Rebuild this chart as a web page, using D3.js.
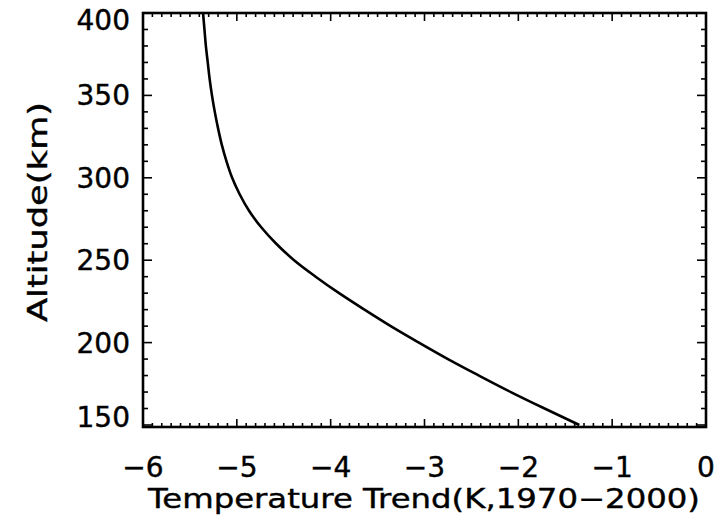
<!DOCTYPE html>
<html>
<head>
<meta charset="utf-8">
<script src="https://cdn.jsdelivr.net/npm/d3@7"></script>
<style>
  html, body { margin: 0; padding: 0; background: #fff; }
  svg { display: block; }
  text { font-family: "DejaVu Sans", sans-serif; fill: #000; stroke: #000; stroke-width: 0.4px; }
</style>
</head>
<body>
<div id="chart"></div>
<script>
// Data
const altitude = [150, 160, 170, 180, 190, 200, 210, 220, 230, 240, 250, 260, 270, 280, 290, 300, 310, 320, 330, 340, 350, 360, 370, 380, 390, 400];
const trend    = [-1.35, -1.72, -2.08, -2.42, -2.75, -3.06, -3.36, -3.64, -3.91, -4.16, -4.39, -4.58, -4.74, -4.87, -4.97, -5.05, -5.11, -5.16, -5.20, -5.235, -5.265, -5.29, -5.31, -5.33, -5.345, -5.36];
const xTicks = [-6, -5, -4, -3, -2, -1, 0];
const yTicks = [150, 200, 250, 300, 350, 400];
const xTitle = "Temperature Trend(K,1970\u22122000)";
const yTitle = "Altitude(km)";

const W = 717, H = 523;
const margin = {left: 143, right: 11, top: 13, bottom: 97};
const svg = d3.select("#chart").append("svg").attr("width", W).attr("height", H);

const x = d3.scaleLinear().domain([-6, 0]).range([margin.left, W - margin.right]);
const y = d3.scaleLinear().domain([150, 400]).range([425, margin.top]);

const x0 = margin.left, x1 = W - margin.right, y0 = margin.top, y1 = 427;

const minorX = d3.range(-6, 0.0001, 0.1).map(v => +v.toFixed(2));
const minorY = d3.range(150, 400.001, 10);

const g = svg.append("g").attr("stroke", "#000").attr("stroke-width", 1.6);
minorX.forEach(v => {
  const isMajor = Math.abs(v - Math.round(v)) < 1e-6;
  const len = isMajor ? 8 : 4;
  g.append("line").attr("x1", x(v)).attr("x2", x(v)).attr("y1", y1).attr("y2", y1 - len);
  g.append("line").attr("x1", x(v)).attr("x2", x(v)).attr("y1", y0).attr("y2", y0 + len);
});
minorY.forEach(v => {
  const isMajor = v % 50 === 0;
  const len = isMajor ? 9 : 5;
  g.append("line").attr("y1", y(v)).attr("y2", y(v)).attr("x1", x0).attr("x2", x0 + len);
  g.append("line").attr("y1", y(v)).attr("y2", y(v)).attr("x1", x1).attr("x2", x1 - len);
});

svg.append("rect").attr("x", x0).attr("y", y0).attr("width", x1 - x0).attr("height", y1 - y0)
  .attr("fill", "none").attr("stroke", "#000").attr("stroke-width", 2.6);

const pts = altitude.map((a, i) => [trend[i], a]);
svg.append("path").datum(pts)
  .attr("fill", "none").attr("stroke", "#000").attr("stroke-width", 2.6)
  .attr("stroke-linejoin", "round")
  .attr("d", d3.line().x(d => x(d[0])).y(d => y(d[1])).curve(d3.curveCatmullRom));

const fmt = v => (v < 0 ? "\u2212" + Math.abs(v) : String(v));
svg.append("g").selectAll("text").data(xTicks).join("text")
  .attr("x", d => x(d)).attr("y", 477)
  .attr("text-anchor", "middle").attr("font-size", 28)
  .text(fmt);

svg.append("g").selectAll("text").data(yTicks).join("text")
  .attr("x", 130)
  .attr("y", d => y(d) + (d === 400 ? 7 : d === 150 ? -8 : 0))
  .attr("dy", "0.36em")
  .attr("text-anchor", "end").attr("font-size", 28)
  .text(d => d);

svg.append("text").attr("x", 424).attr("y", 508)
  .attr("text-anchor", "middle").attr("font-size", 27)
  .attr("textLength", 552).attr("lengthAdjust", "spacingAndGlyphs")
  .text(xTitle);

svg.append("text").attr("transform", "translate(47,212) rotate(-90)")
  .attr("text-anchor", "middle").attr("font-size", 27)
  .attr("textLength", 220).attr("lengthAdjust", "spacingAndGlyphs")
  .text(yTitle);
</script>
</body>
</html>
